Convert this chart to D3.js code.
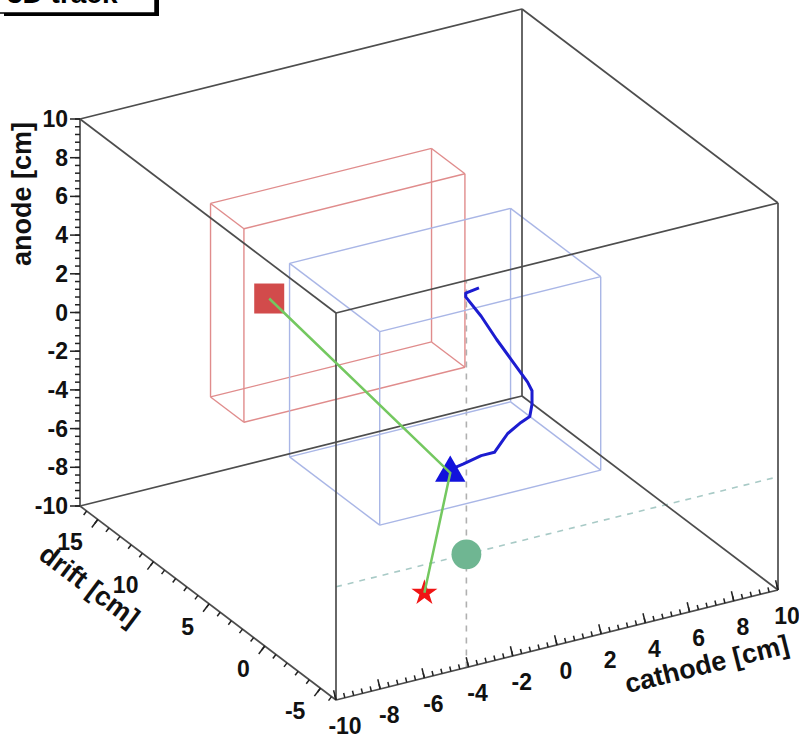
<!DOCTYPE html>
<html>
<head>
<meta charset="utf-8">
<script src="https://cdn.jsdelivr.net/npm/d3@7"></script>
<style>
body { margin: 0; background: #fff; }
svg { display: block; font-family: "Liberation Sans", Arial, Helvetica, sans-serif; }
</style>
</head>
<body>
<script>
var width = 799, height = 736;

// axis ranges (cm)
var cathodeRange = [-10, 10];
var driftRange = [-6.4, 16.6];
var anodeRange = [-10, 10];

// labelled ticks
var cathodeTicks = [-10, -8, -6, -4, -2, 0, 2, 4, 6, 8, 10];
var driftTicks = [-5, 0, 5, 10, 15];
var anodeTicks = [-10, -8, -6, -4, -2, 0, 2, 4, 6, 8, 10];

// detector volumes [min, max]
var redBoxCathode = [-5, 5], redBoxDrift = [11.8, 14.8], redBoxAnode = [-5, 5];
var blueBoxCathode = [-5, 5], blueBoxDrift = [-0.4, 7.7], blueBoxAnode = [-5, 5];

// hits: [cathode, drift, anode]
var squareHit = [-3.1, 13.3, 0.2];
var triangleHit = [-0.6, 2.0, -4.6];
var starHit = [-6.0, -6.4, -5.6];
var circleHit = [-4.1, -6.4, -4.15];

// electron track
var trackCathode = [0.7, 0.1, 0.1, 0.8, 1.5, 2.2, 2.9, 3.1, 3.1, 3.0, 2.6, 2.0, 1.7, 1.4, 0.8, 0.0, -0.5, -0.6];
var trackDrift   = [2.0, 2.0, 2.0, 2.0, 2.0, 2.0, 2.0, 2.0, 2.0, 2.0, 2.0, 2.0, 2.0, 2.0, 2.0, 2.0, 2.0, 2.0];
var trackAnode   = [4.6, 4.5, 4.3, 3.1, 1.7, 0.4, -0.9, -1.4, -2.1, -2.7, -2.9, -3.3, -3.7, -4.1, -4.1, -4.3, -4.4, -4.6];

var svg = d3.select("body")
    .append("svg")
    .attr("width", width)
    .attr("height", height);

// view: each axis maps to a screen vector
var origin = [336, 700];
var cScale = d3.scaleLinear().domain(cathodeRange).range([[0, 0], [442, -110]]);
var dScale = d3.scaleLinear().domain(driftRange).range([[0, 0], [-256, -194]]);
var aScale = d3.scaleLinear().domain(anodeRange).range([[0, 0], [0, -387]]);

function project(c, d, a) {
    var p = cScale(c), q = dScale(d), r = aScale(a);
    return [origin[0] + p[0] + q[0] + r[0], origin[1] + p[1] + q[1] + r[1]];
}
function projectPt(pt) { return project(pt[0], pt[1], pt[2]); }

var line = d3.line();

function boxEdges(cr, dr, ar) {
    var e = [];
    for (var i = 0; i < 2; i++) for (var j = 0; j < 2; j++) {
        e.push([[cr[0], dr[i], ar[j]], [cr[1], dr[i], ar[j]]]);
        e.push([[cr[i], dr[0], ar[j]], [cr[i], dr[1], ar[j]]]);
        e.push([[cr[i], dr[j], ar[0]], [cr[i], dr[j], ar[1]]]);
    }
    return e;
}

function drawBox(edges, color, w) {
    svg.append("g").selectAll("path")
        .data(edges)
        .enter().append("path")
        .attr("d", function (e) { return line(e.map(projectPt)); })
        .attr("fill", "none")
        .attr("stroke", color)
        .attr("stroke-width", w);
}

// crosshair of the hit on the front plane
var dmin = driftRange[0];
svg.append("path")
    .attr("d", line([project(circleHit[0], dmin, anodeRange[0]), project(circleHit[0], dmin, anodeRange[1])]))
    .attr("stroke", "#b0b0b0").attr("stroke-width", 1.6).attr("stroke-dasharray", "6,6").attr("fill", "none");
svg.append("path")
    .attr("d", line([project(cathodeRange[0], dmin, circleHit[2]), project(cathodeRange[1], dmin, circleHit[2])]))
    .attr("stroke", "#a8cac6").attr("stroke-width", 1.6).attr("stroke-dasharray", "6,6").attr("fill", "none");

drawBox(boxEdges(redBoxCathode, redBoxDrift, redBoxAnode), "#e08c8c", 1.4);
drawBox(boxEdges(blueBoxCathode, blueBoxDrift, blueBoxAnode), "#a9b6e6", 1.4);

// outer frame
drawBox(boxEdges(cathodeRange, driftRange, anodeRange), "#4d4d4d", 1.7);

// track
var trackPts = trackCathode.map(function (c, i) { return project(c, trackDrift[i], trackAnode[i]); });
svg.append("path")
    .attr("d", line(trackPts))
    .attr("fill", "none")
    .attr("stroke", "#1c1cd0")
    .attr("stroke-width", 3)
    .attr("stroke-linejoin", "round");

// markers
function marker(pt, type, size, color) {
    var p = projectPt(pt);
    svg.append("path")
        .attr("d", d3.symbol().type(type).size(size)())
        .attr("transform", "translate(" + p[0] + "," + p[1] + ")")
        .attr("fill", color);
}
marker(squareHit, d3.symbolSquare, 900, "#d24b4b");
marker(triangleHit, d3.symbolTriangle, 400, "#1212dc");
marker(circleHit, d3.symbolCircle, 700, "#6fb692");
marker(starHit, d3.symbolStar, 210, "#f01414");

// reconstructed path
svg.append("path")
    .attr("d", line([squareHit, triangleHit, starHit].map(projectPt)))
    .attr("fill", "none")
    .attr("stroke", "#74c860")
    .attr("stroke-width", 2.5);

// axes
var axisG = svg.append("g").attr("stroke", "#222").attr("stroke-width", 1.5);
var textG = svg.append("g").attr("fill", "#111").style("font-weight", "bold");

function tickMark(p, dir, len) {
    axisG.append("line")
        .attr("x1", p[0]).attr("y1", p[1])
        .attr("x2", p[0] + dir[0] * len).attr("y2", p[1] + dir[1] * len);
}

// anode axis (left back edge)
var aMinor = d3.range(anodeRange[0], anodeRange[1] + 0.001, 0.4);
aMinor.forEach(function (a) { tickMark(project(cathodeRange[0], driftRange[1], a), [-1, 0], 5); });
anodeTicks.forEach(function (a) {
    var p = project(cathodeRange[0], driftRange[1], a);
    tickMark(p, [-1, 0], 10);
    textG.append("text").attr("x", p[0] - 12).attr("y", p[1] + 8)
        .attr("text-anchor", "end").style("font-size", "23px").text(a);
});

// cathode axis (front bottom edge)
var cUp = [-0.241, -0.970];
d3.range(cathodeRange[0], cathodeRange[1] + 0.001, 0.4).forEach(function (c) {
    tickMark(project(c, driftRange[0], anodeRange[0]), cUp, 5);
});
cathodeTicks.forEach(function (c) {
    var p = project(c, driftRange[0], anodeRange[0]);
    tickMark(p, cUp, 10);
    textG.append("text").attr("x", p[0] + 9).attr("y", p[1] + 34)
        .attr("text-anchor", "middle").style("font-size", "23px").text(c);
});

// drift axis (left bottom edge)
var dOut = [-0.604, 0.797];
d3.range(-6, driftRange[1], 1).forEach(function (d) {
    tickMark(project(cathodeRange[0], d, anodeRange[0]), dOut, 5);
});
driftTicks.forEach(function (d) {
    var p = project(cathodeRange[0], d, anodeRange[0]);
    tickMark(p, dOut, 10);
    textG.append("text").attr("x", p[0] - 15).attr("y", p[1] + 31)
        .attr("text-anchor", "end").style("font-size", "23px").text(d);
});

// axis titles
textG.append("text").attr("transform", "translate(31,194) rotate(-90)")
    .attr("text-anchor", "middle").style("font-size", "27px").text("anode [cm]");
textG.append("text").attr("transform", "translate(709,673) rotate(-14)")
    .attr("text-anchor", "middle").style("font-size", "27px").text("cathode [cm]");
textG.append("text").attr("transform", "translate(84,593) rotate(37)")
    .attr("text-anchor", "middle").style("font-size", "27px").text("drift [cm]");

// title box (cut by the top edge)
svg.append("rect").attr("x", 4).attr("y", -30).attr("width", 155).attr("height", 46).attr("fill", "#000");
svg.append("rect").attr("x", -2).attr("y", -30).attr("width", 157).attr("height", 43)
    .attr("fill", "#fff").attr("stroke", "#000").attr("stroke-width", 1.5);
svg.append("text").attr("x", 7).attr("y", 3)
    .style("font-size", "28px").style("font-weight", "bold").text("3D track");
</script>
</body>
</html>
